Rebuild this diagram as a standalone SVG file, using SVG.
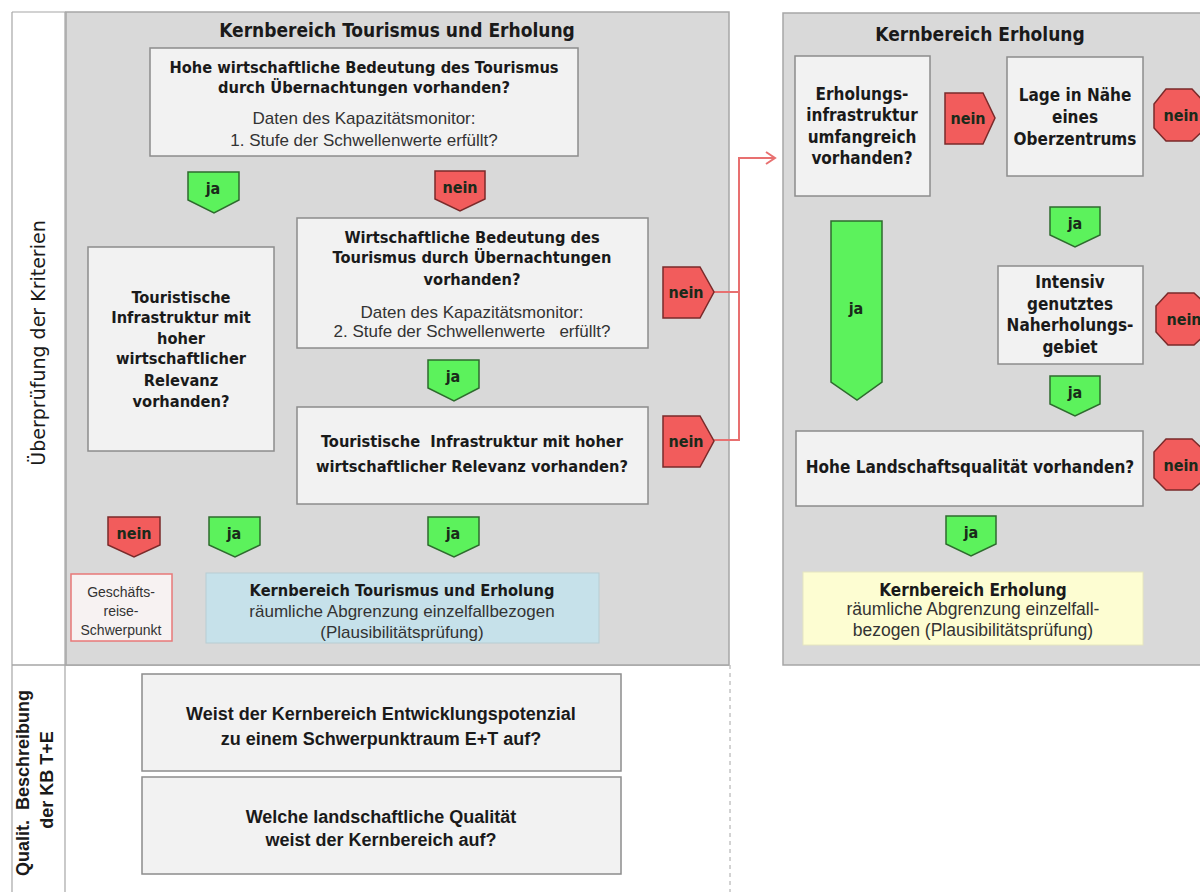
<svg xmlns="http://www.w3.org/2000/svg" width="1200" height="892" viewBox="0 0 1200 892">
<defs>
<style>
.panel{fill:#d9d9d9;stroke:#a6a6a6;stroke-width:1.5}
.box{fill:#f2f2f2;stroke:#8c8c8c;stroke-width:1.5}
.b{font-family:"DejaVu Sans Condensed","DejaVu Sans",sans-serif;font-weight:bold;font-size:16.3px;fill:#1a1a1a;text-anchor:middle}
.br{font-family:"DejaVu Sans Condensed","DejaVu Sans",sans-serif;font-weight:bold;font-size:17px;fill:#1a1a1a;text-anchor:middle}
.n{font-family:"Liberation Sans",Arial,sans-serif;font-size:17px;fill:#333;text-anchor:middle}
.t{font-family:"DejaVu Sans Condensed","DejaVu Sans",sans-serif;font-weight:bold;font-size:19px;fill:#1a1a1a;text-anchor:middle}
.q{font-family:"Liberation Sans",Arial,sans-serif;font-weight:bold;font-size:18px;fill:#1a1a1a;text-anchor:middle}
.g{fill:#5cf25c;stroke:#2e6b2e;stroke-width:1.5}
.r{fill:#f25c5c;stroke:#7a2a2a;stroke-width:1.5}
.bl{font-family:"DejaVu Sans Condensed","DejaVu Sans",sans-serif;font-weight:bold;font-size:16px;fill:#1a2a1a;text-anchor:middle}
.side{font-family:"DejaVu Sans",sans-serif;font-size:19px;fill:#1a1a1a;text-anchor:middle}
.side2{font-family:"Liberation Sans",Arial,sans-serif;font-weight:bold;font-size:18px;fill:#1a1a1a;text-anchor:middle}
.con{fill:none;stroke:#e87070;stroke-width:2}
</style>
</defs>
<rect width="1200" height="892" fill="#ffffff"/>

<g id="frame">
<line x1="12" y1="12" x2="12" y2="892" stroke="#a6a6a6" stroke-width="1.2"/>
<line x1="12" y1="12" x2="66" y2="12" stroke="#a6a6a6" stroke-width="1.2"/>
<line x1="65" y1="12" x2="65" y2="892" stroke="#a6a6a6" stroke-width="1.2"/>
<line x1="12" y1="665" x2="729" y2="665" stroke="#a6a6a6" stroke-width="1.5"/>
<line x1="730" y1="665" x2="730" y2="892" stroke="#a6a6a6" stroke-width="1" stroke-dasharray="4,4"/>
<rect class="panel" x="66" y="12" width="663" height="653"/>
<rect class="panel" x="783" y="13" width="430" height="652"/>
<text class="side" transform="translate(45,343) rotate(-90)">Überprüfung der Kriterien</text>
<text class="side2" transform="translate(29,783) rotate(-90)">Qualit.&#160;&#160;Beschreibung</text>
<text class="side2" transform="translate(53,780) rotate(-90)">der KB T+E</text>
<text class="t" x="397" y="37">Kernbereich Tourismus und Erholung</text>
<text class="t" x="980" y="41">Kernbereich Erholung</text>
</g>

<g id="connectors">
<path class="con" d="M714,292 H739 M714,440 H739 V158 H774"/>
<path d="M766,152 L775,158 L766,164" fill="none" stroke="#e87070" stroke-width="2"/>
</g>

<g id="q1">
<rect class="box" x="150" y="48" width="428" height="108"/>
<text class="b" x="364" y="73">Hohe wirtschaftliche Bedeutung des Tourismus</text>
<text class="b" x="364" y="93">durch Übernachtungen vorhanden?</text>
<text class="n" x="364" y="124">Daten des Kapazitätsmonitor:</text>
<text class="n" x="364" y="146">1. Stufe der Schwellenwerte erfüllt?</text>
</g>

<g id="ja1"><path class="g" d="M188,172 H239 V200 L214,213 L188,200 Z"/><text class="bl" x="213" y="194">ja</text></g>
<g id="nein1"><path class="r" d="M435,171 H485 V199 L460,211 L435,199 Z"/><text class="bl" x="460" y="193">nein</text></g>

<g id="q2">
<rect class="box" x="297" y="218" width="351" height="130"/>
<text class="b" x="472" y="243">Wirtschaftliche Bedeutung des</text>
<text class="b" x="472" y="263">Tourismus durch Übernachtungen</text>
<text class="b" x="472" y="285">vorhanden?</text>
<text class="n" x="472" y="318">Daten des Kapazitätsmonitor:</text>
<text class="n" x="472" y="337">2. Stufe der Schwellenwerte&#160;&#160; erfüllt?</text>
</g>

<g id="qleft">
<rect class="box" x="88" y="247" width="186" height="204"/>
<text class="b" x="181" y="303">Touristische</text>
<text class="b" x="181" y="323">Infrastruktur mit</text>
<text class="b" x="181" y="344">hoher</text>
<text class="b" x="181" y="364">wirtschaftlicher</text>
<text class="b" x="181" y="386">Relevanz</text>
<text class="b" x="181" y="407">vorhanden?</text>
</g>

<g id="nein2"><path class="r" d="M663,267 H700 L714,292 L700,318 H663 Z"/><text class="bl" x="686" y="298">nein</text></g>
<g id="ja2"><path class="g" d="M428,360 H479 V388 L454,401 L428,388 Z"/><text class="bl" x="453" y="382">ja</text></g>

<g id="q3">
<rect class="box" x="297" y="407" width="351" height="97"/>
<text class="b" x="472" y="447">Touristische&#160; Infrastruktur mit hoher</text>
<text class="b" x="472" y="472">wirtschaftlicher Relevanz vorhanden?</text>
</g>
<g id="nein3"><path class="r" d="M663,416 H700 L714,441 L700,467 H663 Z"/><text class="bl" x="686" y="447">nein</text></g>

<g id="nein4"><path class="r" d="M108,517 H160 V545 L134,557 L108,545 Z"/><text class="bl" x="134" y="539">nein</text></g>
<g id="ja3"><path class="g" d="M209,517 H260 V545 L235,557 L209,545 Z"/><text class="bl" x="234" y="539">ja</text></g>
<g id="ja4"><path class="g" d="M428,517 H479 V545 L454,557 L428,545 Z"/><text class="bl" x="453" y="539">ja</text></g>

<g id="geschaeft">
<rect x="71" y="574" width="101" height="67" fill="#f7f2f2" stroke="#e87878" stroke-width="1.5"/>
<text class="n" x="121" y="597" style="font-size:14px">Geschäfts-</text>
<text class="n" x="121" y="616" style="font-size:14px">reise-</text>
<text class="n" x="121" y="635" style="font-size:14px">Schwerpunkt</text>
</g>

<g id="kbte">
<rect x="206" y="573" width="393" height="70" fill="#c6e1ea" stroke="#b8cdd3" stroke-width="1"/>
<text class="b" x="402" y="596">Kernbereich Tourismus und Erholung</text>
<text class="n" x="402" y="617">räumliche Abgrenzung einzelfallbezogen</text>
<text class="n" x="402" y="638">(Plausibilitätsprüfung)</text>
</g>

<g id="qa">
<rect class="box" x="142" y="674" width="479" height="97"/>
<text class="q" x="381" y="720">Weist der Kernbereich Entwicklungspotenzial</text>
<text class="q" x="381" y="745">zu einem Schwerpunktraum E+T auf?</text>
</g>
<g id="qb">
<rect class="box" x="142" y="777" width="479" height="97"/>
<text class="q" x="381" y="823">Welche landschaftliche Qualität</text>
<text class="q" x="381" y="846">weist der Kernbereich auf?</text>
</g>

<g id="r1">
<rect class="box" x="795" y="56" width="135" height="140"/>
<text class="br" x="862" y="100">Erholungs-</text>
<text class="br" x="862" y="121">infrastruktur</text>
<text class="br" x="862" y="143">umfangreich</text>
<text class="br" x="862" y="164">vorhanden?</text>
</g>
<g id="rnein1"><path class="r" d="M945,93 H983 L995,118 L983,144 H945 Z"/><text class="bl" x="968" y="124">nein</text></g>
<g id="r2">
<rect class="box" x="1007" y="57" width="136" height="119"/>
<text class="br" x="1075" y="101">Lage in Nähe</text>
<text class="br" x="1075" y="123">eines</text>
<text class="br" x="1075" y="145">Oberzentrums</text>
</g>
<g id="stop1"><path class="r" d="M1166,89 H1192 L1206,104 V128 L1192,141 H1166 L1154,128 V104 Z"/><text class="bl" x="1181" y="121">nein</text></g>
<g id="rja1"><path class="g" d="M1050,207 H1100 V235 L1075,247 L1050,235 Z"/><text class="bl" x="1075" y="229">ja</text></g>
<g id="rjabig"><path class="g" d="M831,221 H882 V382 L857,400 L831,382 Z"/><text class="bl" x="856" y="314">ja</text></g>
<g id="r3">
<rect class="box" x="998" y="266" width="145" height="98"/>
<text class="br" x="1070" y="288">Intensiv</text>
<text class="br" x="1070" y="310">genutztes</text>
<text class="br" x="1070" y="331">Naherholungs-</text>
<text class="br" x="1070" y="353">gebiet</text>
</g>
<g id="stop2"><path class="r" d="M1168,293 H1194 L1208,306 V332 L1194,345 H1168 L1156,332 V306 Z"/><text class="bl" x="1184" y="325">nein</text></g>
<g id="rja2"><path class="g" d="M1050,376 H1100 V404 L1075,416 L1050,404 Z"/><text class="bl" x="1075" y="398">ja</text></g>
<g id="r4">
<rect class="box" x="796" y="431" width="347" height="75"/>
<text class="br" x="970" y="473">Hohe Landschaftsqualität vorhanden?</text>
</g>
<g id="stop3"><path class="r" d="M1166,439 H1192 L1206,452 V478 L1192,490 H1166 L1154,478 V452 Z"/><text class="bl" x="1181" y="471">nein</text></g>
<g id="rja3"><path class="g" d="M946,516 H996 V544 L971,556 L946,544 Z"/><text class="bl" x="971" y="538">ja</text></g>
<g id="ke">
<rect x="803" y="572" width="340" height="73" fill="#fdfdd2" stroke="#e6e6c0" stroke-width="1"/>
<text class="br" x="973" y="596">Kernbereich Erholung</text>
<text class="n" x="973" y="615" style="font-size:17.5px">räumliche Abgrenzung einzelfall-</text>
<text class="n" x="973" y="636" style="font-size:17.5px">bezogen (Plausibilitätsprüfung)</text>
</g>
</svg>
